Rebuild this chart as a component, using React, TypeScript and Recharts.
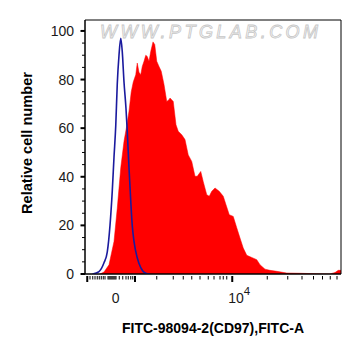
import React from 'react';
import { ComposedChart, Area, Line, XAxis, YAxis, ReferenceArea } from 'recharts';

// Display channel (0-1024, biexponential FITC-A scale) vs relative cell number
const redX = [60, 76, 96, 116, 129, 143, 156, 167, 176, 185, 193, 203, 209, 216, 223, 229, 236, 243, 249, 256, 263, 272, 279, 287, 296, 305, 316, 327, 336, 340, 353, 364, 373, 387, 400, 413, 427, 440, 449, 463, 473, 487, 497, 507, 520, 537, 553, 564, 577, 593, 607, 620, 633, 647, 667, 687, 700, 720, 740, 767, 807, 860, 927, 980, 1000, 1013, 1024];
const redY = [0, 0.8, 3.8, 13.4, 27, 43.7, 54.6, 61, 67, 75, 79, 82, 86.8, 83, 82, 85.4, 87.5, 90, 89.5, 87.5, 91.6, 95.5, 94.4, 87.5, 85.4, 83.4, 78, 71, 71.7, 72.4, 71, 61.4, 58.7, 57.3, 55.3, 49, 46.3, 40.2, 40.2, 42.2, 38, 32.6, 32, 34, 35.4, 34, 32, 28.5, 24.4, 23.7, 19, 14.8, 10.7, 7.7, 6.8, 5.9, 3.8, 2, 1.5, 1.1, 0.4, 0.3, 0.1, 0.05, 0.6, 1.5, 1.5];

const blueX = [30, 56, 76, 89, 100, 109, 116, 123, 129, 136, 143, 149, 156, 164, 169, 176, 183, 189, 196, 209, 223, 243, 260];
const blueY = [0, 1, 4.6, 9, 20, 34, 48, 61, 78, 90, 97, 91.6, 79, 68, 58.7, 43.7, 30, 20, 13.4, 6.7, 2.6, 0.3, 0];

const xMajorTicks = [9, 200, 589];
const xMinorTicks = [20, 31, 40, 49, 57, 65, 73, 80, 92, 96, 100, 104, 108, 112, 116, 120, 124, 137, 151, 164, 173, 183, 191, 287, 353, 393, 427, 460, 493, 516, 540, 553, 567, 729, 811, 868, 914, 950, 981, 1008];
const xZeroLabelAt = 123;
const xDecadeLabelAt = 589;
const xZeroLabel = '0';
const xDecadeBase = '10';
const xDecadeExp = '4';

const yMajorTicks = [0, 20, 40, 60, 80, 100];
const yMinorTicks = [5, 10, 15, 25, 30, 35, 45, 50, 55, 65, 70, 75, 85, 90, 95];

const xTitle = 'FITC-98094-2(CD97),FITC-A';
const yTitle = 'Relative cell number';
const watermark = 'WWW.PTGLAB.COM';

const X_MAX = 1024;
const Y_MAX = 104.5;

type Row = { x: number; red?: number; blue?: number };
const buildTable = (): Row[] => {
  const map = new Map<number, Row>();
  redX.forEach((x, i) => {
    const r = map.get(x) || { x };
    r.red = redY[i];
    map.set(x, r);
  });
  blueX.forEach((x, i) => {
    const r = map.get(x) || { x };
    r.blue = blueY[i];
    map.set(x, r);
  });
  return Array.from(map.values()).sort((a, b) => a.x - b.x);
};
const table = buildTable();

const FONT = '"Liberation Sans", Arial, Helvetica, sans-serif';
const allXTicks = Array.from(new Set([...xMajorTicks, ...xMinorTicks, xZeroLabelAt])).sort((a, b) => a - b);
const allYTicks = [...yMajorTicks, ...yMinorTicks].sort((a, b) => a - b);

const XTick = (props: any) => {
  const { x, y, payload } = props;
  const v = payload.value;
  const major = xMajorTicks.includes(v);
  const minor = xMinorTicks.includes(v);
  return (
    <g>
      {major && <line x1={x} x2={x} y1={y + 2} y2={y + 8} stroke="#000" strokeWidth={2} />}
      {minor && <line x1={x} x2={x} y1={y + 2} y2={y + 5.5} stroke="#000" strokeWidth={1} />}
      {v === xZeroLabelAt && (
        <text x={x} y={y + 29} textAnchor="middle" fontSize={14} fontFamily={FONT} fill="#1a1a1a">
          {xZeroLabel}
        </text>
      )}
      {v === xDecadeLabelAt && (
        <text x={x - 4} y={y + 29} textAnchor="start" fontSize={14} fontFamily={FONT} fill="#1a1a1a">
          {xDecadeBase}
          <tspan dy={-8} fontSize={11.5}>{xDecadeExp}</tspan>
        </text>
      )}
    </g>
  );
};

const YTick = (props: any) => {
  const { x, y, payload } = props;
  const v = payload.value;
  const major = yMajorTicks.includes(v);
  return (
    <g>
      <line x1={x - (major ? 4.5 : 3)} x2={x} y1={y} y2={y} stroke="#000" strokeWidth={major ? 2 : 1} />
      {major && (
        <text x={x - 11} y={y} dy={5} textAnchor="end" fontSize={14} fontFamily={FONT} fill="#1a1a1a">
          {v}
        </text>
      )}
    </g>
  );
};

export default function App() {
  return (
    <div style={{ position: 'absolute', left: 0, top: 0, width: 361, height: 356, background: '#fff' }}>
      <ComposedChart
        width={361}
        height={356}
        data={table}
        margin={{ top: 20, right: 20, left: 0, bottom: 0 }}
      >
        <XAxis
          dataKey="x"
          type="number"
          domain={[0, X_MAX]}
          ticks={allXTicks}
          interval={0}
          height={82}
          tickSize={0}
          tickMargin={0}
          tickLine={false}
          tick={<XTick />}
          axisLine={{ stroke: '#000', strokeWidth: 1 }}
          allowDataOverflow
        />
        <YAxis
          type="number"
          domain={[0, Y_MAX]}
          ticks={allYTicks}
          interval={0}
          width={85}
          tickSize={0}
          tickMargin={0}
          tickLine={false}
          tick={<YTick />}
          axisLine={{ stroke: '#000', strokeWidth: 1 }}
          allowDataOverflow
        />
        <Area
          dataKey="red"
          type="linear"
          fill="#ff0000"
          fillOpacity={1}
          stroke="#ff0000"
          strokeWidth={0.5}
          connectNulls
          baseValue={0}
          isAnimationActive={false}
          dot={false}
          activeDot={false}
        />
        <Line
          dataKey="blue"
          type="monotone"
          stroke="#1a1a9e"
          strokeWidth={1.6}
          connectNulls
          dot={false}
          activeDot={false}
          isAnimationActive={false}
        />
        <ReferenceArea x1={0} x2={X_MAX} y1={0} y2={Y_MAX} fill="none" stroke="#000" strokeWidth={1} fillOpacity={0} />
      </ComposedChart>
      <svg
        width={361}
        height={356}
        style={{ position: 'absolute', left: 0, top: 0, pointerEvents: 'none' }}
      >
        <text
          x={100}
          y={37.5}
          textLength={218}
          lengthAdjust="spacing"
          fontSize={18}
          fontStyle="italic"
          fontFamily={FONT}
          fill="#fafafa"
          stroke="#c6c6c6"
          strokeWidth={0.8}
        >
          {watermark}
        </text>
        <text
          x={213}
          y={333}
          textAnchor="middle"
          fontSize={14}
          fontWeight="bold"
          fontFamily={FONT}
          fill="#000"
        >
          {xTitle}
        </text>
        <text
          transform="translate(32,143) rotate(-90)"
          textAnchor="middle"
          fontSize={14.6}
          fontWeight="bold"
          fontFamily={FONT}
          fill="#000"
        >
          {yTitle}
        </text>
      </svg>
    </div>
  );
}
